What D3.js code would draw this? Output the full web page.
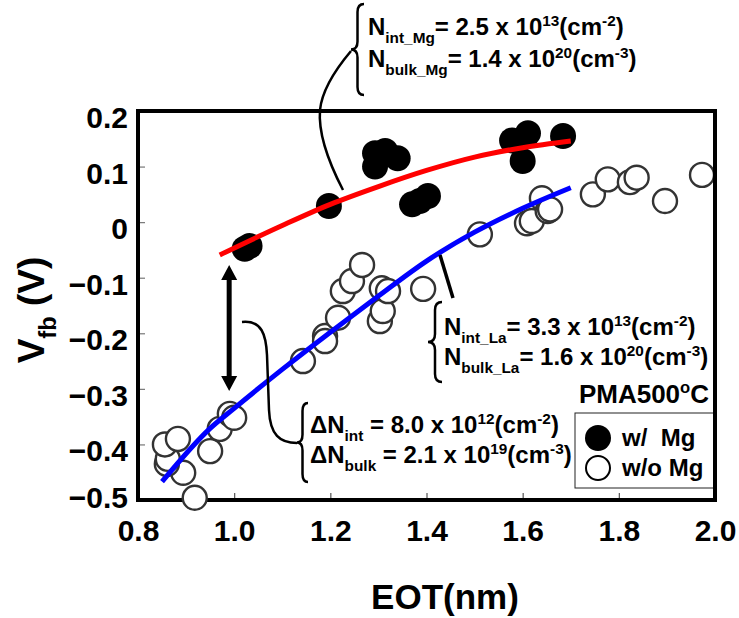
<!DOCTYPE html>
<html>
<head>
<meta charset="utf-8">
<script src="https://cdn.jsdelivr.net/npm/d3@7"></script>
<style>
  html, body { margin: 0; padding: 0; background: #fff; }
  svg { display: block; font-family: "Liberation Sans", Arial, sans-serif; font-weight: bold; }
</style>
</head>
<body>
<svg id="chart" width="739" height="618"></svg>
<script>
// Flat-band voltage vs EOT, PMA 500 °C
const withMgEOT = [1.022, 1.032, 1.197, 1.293, 1.314, 1.340, 1.293, 1.370, 1.386, 1.403, 1.578, 1.611, 1.600, 1.684];
const withMgVfb = [-0.048, -0.043, 0.029, 0.124, 0.128, 0.115, 0.100, 0.032, 0.038, 0.047, 0.147, 0.160, 0.110, 0.155];

const woMgEOT = [0.918, 0.894, 0.860, 0.862, 0.856, 0.883, 0.950, 0.970, 0.991, 1.000,
                 1.143, 1.189, 1.189, 1.216, 1.226, 1.245, 1.266, 1.303, 1.309, 1.307,
                 1.320, 1.393, 1.511, 1.609, 1.619, 1.640, 1.652, 1.657, 1.746, 1.777,
                 1.823, 1.837, 1.896, 1.973];
const woMgVfb = [-0.496, -0.451, -0.435, -0.426, -0.400, -0.390, -0.412, -0.372, -0.345, -0.352,
                 -0.250, -0.205, -0.214, -0.172, -0.124, -0.106, -0.077, -0.178, -0.160, -0.119,
                 -0.124, -0.120, -0.022, -0.002, 0.002, 0.043, 0.020, 0.023, 0.050, 0.077,
                 0.072, 0.080, 0.038, 0.085];

// fitted trend curves
const fitMgEOT = [0.97, 1.10, 1.20, 1.30, 1.40, 1.50, 1.60, 1.70];
const fitMgVfb = [-0.059, -0.006, 0.032, 0.064, 0.093, 0.117, 0.134, 0.146];
const fitLaEOT = [0.85, 0.95, 1.00, 1.10, 1.20, 1.30, 1.40, 1.50, 1.60, 1.70];
const fitLaVfb = [-0.467, -0.371, -0.335, -0.265, -0.198, -0.133, -0.070, -0.018, 0.025, 0.062];

const xTicks = [0.8, 1.0, 1.2, 1.4, 1.6, 1.8, 2.0];
const yTicks = [0.2, 0.1, 0, -0.1, -0.2, -0.3, -0.4, -0.5];

const svg = d3.select("#chart");
const L = 138, R = 715, T = 111, B = 500;
const x = d3.scaleLinear().domain([0.8, 2.0]).range([L, R]);
const y = d3.scaleLinear().domain([-0.5, 0.2]).range([B, T]);

// rich text helper: segments of [text, "sub" | "sup" | null]
function rich(g, px, py, segs, size, anchor) {
  const t = g.append("text").attr("x", px).attr("y", py)
    .attr("font-size", size).attr("text-anchor", anchor || "start");
  let shift = 0;
  segs.forEach(([s, k]) => {
    let target = k === "sub" ? size * 0.33 : k === "sup" ? -size * 0.38 : 0;
    const ts = t.append("tspan").text(s).attr("dy", target - shift);
    if (k) ts.attr("font-size", size * 0.64);
    shift = target;
  });
  return t;
}

// left-facing curly brace
function brace(g, bx, y0, y1, d) {
  const ym = (y0 + y1) / 2, sx = bx - d / 2, r = 8;
  g.append("path")
    .attr("d", `M${bx},${y0} Q${sx},${y0} ${sx},${y0 + r} L${sx},${ym - r} Q${sx},${ym} ${bx - d},${ym}` +
               ` Q${sx},${ym} ${sx},${ym + r} L${sx},${y1 - r} Q${sx},${y1} ${bx},${y1}`)
    .attr("fill", "none").attr("stroke", "#000").attr("stroke-width", 2.5);
}

// axes
const yAxis = d3.axisLeft(y).tickValues(yTicks).tickSizeInner(-7).tickSizeOuter(0)
  .tickFormat(d => d === 0 ? "0" : d3.format(".1f")(d));
const gy = svg.append("g").attr("transform", `translate(${L},0)`).call(yAxis);
gy.select(".domain").remove();
gy.selectAll(".tick line").attr("stroke", "#777").attr("stroke-width", 1.2);
gy.selectAll(".tick text").attr("font-size", 30).attr("x", -10)
  .attr("dy", d => d === -0.5 ? "0.25em" : "0.55em").attr("fill", "#000");

const xAxis = d3.axisBottom(x).tickValues(xTicks).tickSizeInner(-7).tickSizeOuter(0)
  .tickFormat(d3.format(".1f"));
const gx = svg.append("g").attr("transform", `translate(0,${B})`).call(xAxis);
gx.select(".domain").remove();
gx.selectAll(".tick line").attr("stroke", "#555").attr("stroke-width", 1.2);
gx.selectAll(".tick text").attr("font-size", 30).attr("y", 20).attr("dy", "0.71em").attr("fill", "#000");

// frame
svg.append("rect").attr("x", L).attr("y", T).attr("width", R - L).attr("height", B - T)
  .attr("fill", "none").attr("stroke", "#000").attr("stroke-width", 4);

// axis titles
svg.append("text").attr("x", 445).attr("y", 609).attr("text-anchor", "middle")
  .attr("font-size", 35).text("EOT(nm)");
rich(svg.append("g").attr("transform", "translate(44,310) rotate(-90)"), 0, 0,
  [["V", null], ["fb", "sub"], [" (V)", null]], 37, "middle");

// data points
const ptsO = woMgEOT.map((e, i) => [e, woMgVfb[i]]);
svg.append("g").selectAll("circle").data(ptsO).join("circle")
  .attr("cx", d => x(d[0])).attr("cy", d => y(d[1])).attr("r", 12)
  .attr("fill", "#fff").attr("stroke", "#333").attr("stroke-width", 2.4);
const ptsF = withMgEOT.map((e, i) => [e, withMgVfb[i]]);
svg.append("g").selectAll("circle").data(ptsF).join("circle")
  .attr("cx", d => x(d[0])).attr("cy", d => y(d[1])).attr("r", 13).attr("fill", "#000");

// trend curves
const line = d3.line().x(d => x(d[0])).y(d => y(d[1])).curve(d3.curveMonotoneX);
svg.append("path").datum(fitMgEOT.map((e, i) => [e, fitMgVfb[i]]))
  .attr("d", line).attr("fill", "none").attr("stroke", "#ff0000").attr("stroke-width", 5);
svg.append("path").datum(fitLaEOT.map((e, i) => [e, fitLaVfb[i]]))
  .attr("d", line).attr("fill", "none").attr("stroke", "#0000ff").attr("stroke-width", 5);

// annotations
const ann = svg.append("g");
brace(ann, 364, 4, 95, 13);
ann.append("path").attr("d", "M351,51 C335,70 322,90 320,110 C318,135 330,165 343,190")
  .attr("fill", "none").attr("stroke", "#000").attr("stroke-width", 2.5);
rich(ann, 368, 35, [["N", null], ["int_Mg", "sub"], ["= 2.5 x 10", null], ["13", "sup"], ["(cm", null], ["-2", "sup"], [")", null]], 24);
rich(ann, 368, 67, [["N", null], ["bulk_Mg", "sub"], ["= 1.4 x 10", null], ["20", "sup"], ["(cm", null], ["-3", "sup"], [")", null]], 24);

brace(ann, 442, 302, 382, 14);
ann.append("path").attr("d", "M440,255 L453,298")
  .attr("fill", "none").attr("stroke", "#000").attr("stroke-width", 3.5);
rich(ann, 444, 335, [["N", null], ["int_La", "sub"], ["= 3.3 x 10", null], ["13", "sup"], ["(cm", null], ["-2", "sup"], [")", null]], 24);
rich(ann, 444, 365, [["N", null], ["bulk_La", "sub"], ["= 1.6 x 10", null], ["20", "sup"], ["(cm", null], ["-3", "sup"], [")", null]], 24);

brace(ann, 308, 403, 482, 11);
ann.append("path").attr("d", "M242,322 C262,320 266,335 267,355 L269,410 C270,435 280,443 297,443")
  .attr("fill", "none").attr("stroke", "#000").attr("stroke-width", 2.5);
rich(ann, 310, 433, [["\u0394N", null], ["int", "sub"], [" = 8.0 x 10", null], ["12", "sup"], ["(cm", null], ["-2", "sup"], [")", null]], 24);
rich(ann, 310, 463, [["\u0394N", null], ["bulk", "sub"], [" = 2.1 x 10", null], ["19", "sup"], ["(cm", null], ["-3", "sup"], [")", null]], 24);

// double-headed arrow between the two curves
const ax = x(1.0) - 5;
ann.append("line").attr("x1", ax).attr("x2", ax).attr("y1", 276).attr("y2", 380)
  .attr("stroke", "#000").attr("stroke-width", 5);
ann.append("path").attr("d", `M${ax},265 L${ax - 8},280 L${ax + 8},280 Z M${ax},391 L${ax - 8},376 L${ax + 8},376 Z`)
  .attr("fill", "#000");

// legend
const lg = svg.append("g");
rich(lg, 709, 403, [["PMA500", null], ["o", "sup"], ["C", null]], 26, "end");
lg.append("rect").attr("x", 575).attr("y", 413).attr("width", R - 575).attr("height", 75)
  .attr("fill", "#fff").attr("stroke", "#222").attr("stroke-width", 1);
lg.append("circle").attr("cx", 598).attr("cy", 438).attr("r", 13).attr("fill", "#000");
lg.append("circle").attr("cx", 598).attr("cy", 468).attr("r", 12).attr("fill", "#fff")
  .attr("stroke", "#000").attr("stroke-width", 2);
lg.append("text").attr("x", 622).attr("y", 446).attr("font-size", 24).attr("xml:space", "preserve").text("w/  Mg");
lg.append("text").attr("x", 622).attr("y", 476).attr("font-size", 24).text("w/o Mg");
// redraw right frame edge over the legend box
svg.append("line").attr("x1", R).attr("x2", R).attr("y1", T - 2).attr("y2", B + 2)
  .attr("stroke", "#000").attr("stroke-width", 4);
</script>
</body>
</html>
